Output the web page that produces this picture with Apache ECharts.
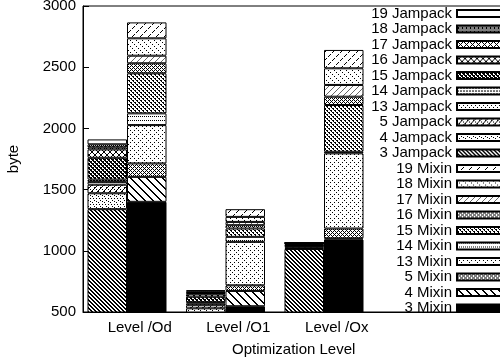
<!DOCTYPE html>
<html>
<head>
<meta charset="utf-8">
<script src="https://cdn.jsdelivr.net/npm/echarts@6/dist/echarts.min.js"></script>
<style>
html, body { margin: 0; padding: 0; background: #fff; }
#chart { width: 500px; height: 362px; }
</style>
</head>
<body>
<div id="chart"></div>
<script>
var categories = ['Level /Od', 'Level /O1', 'Level /Ox'];
var levels = ['3', '4', '5', '13', '14', '15', '16', '17', '18', '19'];

// Jampack (left bar of each group), one array per stacked segment
var jampack3 = [1340, 490, 1015];
var jampack4 = [130, 40, 10];
var jampack5 = [70, 25, 10];
var jampack13 = [23, 15, 5];
var jampack14 = [19, 10, 5];
var jampack15 = [178, 45, 10];
var jampack16 = [68, 20, 5];
var jampack17 = [17, 10, 2];
var jampack18 = [25, 15, 3];
var jampack19 = [40, 8, 2];

// Mixin (right bar)
var mixin3 = [1400, 547, 1092];
var mixin4 = [204, 125, 10];
var mixin5 = [110, 46, 80];
var mixin13 = [313, 355, 614];
var mixin14 = [96, 41, 13];
var mixin15 = [327, 68, 382];
var mixin16 = [82, 27, 68];
var mixin17 = [62, 27, 96];
var mixin18 = [142, 41, 136];
var mixin19 = [130, 63, 150];

var jampackValues = [jampack3, jampack4, jampack5, jampack13, jampack14,
                     jampack15, jampack16, jampack17, jampack18, jampack19];
var mixinValues = [mixin3, mixin4, mixin5, mixin13, mixin14,
                   mixin15, mixin16, mixin17, mixin18, mixin19];

var font = 'Liberation Sans, Arial, sans-serif';

// small bitmap fills, gnuplot style
function md(a, n) { return ((a % n) + n) % n; }
function pattern(n, on, fg) {
  var c = document.createElement('canvas');
  c.width = n; c.height = n;
  var ctx = c.getContext('2d');
  ctx.fillStyle = '#fff';
  ctx.fillRect(0, 0, n, n);
  ctx.fillStyle = fg || '#000';
  for (var y = 0; y < n; y++)
    for (var x = 0; x < n; x++)
      if (on(x, y)) ctx.fillRect(x, y, 1, 1);
  return { image: c, repeat: 'repeat' };
}

var fills = {
  '3 Jampack': pattern(4, function (x, y) { return md(x - y, 4) < 2; }),
  '4 Jampack': pattern(6, function (x, y) { return (md(x + y, 6) == 0 && x % 2 == 0) || (md(x - y, 6) == 3 && y % 3 == 0); }),
  '5 Jampack': pattern(6, function (x, y) { return md(x + y, 6) == 0 || (md(x - y, 6) == 3 && x % 2 == 0); }),
  '13 Jampack': pattern(4, function (x, y) { return (x == 0 && y == 0) || (x == 2 && y == 2); }),
  '14 Jampack': pattern(6, function (x, y) { return y % 3 == 0 && x % 3 != 2; }),
  '15 Jampack': pattern(4, function (x, y) { return md(x - y, 4) < 2 || md(x + y, 4) == 0; }),
  '16 Jampack': pattern(6, function (x, y) { return md(x - y, 6) == 0 || md(x + y, 6) == 3; }),
  '17 Jampack': pattern(6, function (x, y) { return (md(x - y, 6) == 0 || md(x + y, 6) == 0) && (x + y) % 2 == 0; }),
  '18 Jampack': pattern(4, function (x, y) { return (x + y) % 2 == 0 || (x == 1 && y == 2); }),
  '19 Jampack': pattern(2, function () { return false; }),
  '3 Mixin': pattern(2, function () { return true; }),
  '4 Mixin': pattern(8, function (x, y) { return md(x - y, 8) < 2; }),
  '5 Mixin': pattern(4, function (x, y) { return md(x - y, 4) == 0 || md(x + y, 4) == 0; }),
  '13 Mixin': pattern(8, function (x, y) { return (md(x - y, 8) == 0 || md(x + y, 8) == 0) && x % 2 == 0; }),
  '14 Mixin': pattern(8, function (x, y) { return y % 4 == 0 && x % 2 == 0; }),
  '15 Mixin': pattern(4, function (x, y) { return md(x - y, 4) == 0 || (md(x - y, 4) == 1 && y % 2 == 0); }),
  '16 Mixin': pattern(4, function (x, y) { return md(x + y, 4) == 0 || (md(x - y, 4) == 2 && x % 2 == 0); }),
  '17 Mixin': pattern(6, function (x, y) { return md(x + y, 6) == 0; }, '#666'),
  '18 Mixin': pattern(6, function (x, y) { return md(x - y, 6) == 0 && x % 2 == 0; }),
  '19 Mixin': pattern(8, function (x, y) { return md(x + y, 8) == 0 && x % 4 != 3; })
};

var series = [];
var legendNames = [];
function addStack(label, values) {
  values.forEach(function (vals, i) {
    var name = levels[i] + ' ' + label;
    series.push({
      name: name,
      type: 'bar',
      stack: label,
      data: vals,
      barWidth: 39.5,
      barGap: '0%',
      itemStyle: { color: fills[name], borderColor: '#000', borderWidth: 1 },
      emphasis: { disabled: true }
    });
  });
  legendNames = legendNames.concat(levels.slice().reverse().map(function (l) { return l + ' ' + label; }));
}
addStack('Jampack', jampackValues);
addStack('Mixin', mixinValues);
// empty column so the pair sits left of the tick like gnuplot does
series.push({ type: 'bar', stack: 'pad', data: categories.map(function () { return '-'; }),
  barWidth: 10.5, barGap: '0%', silent: true });

var chart = echarts.init(document.getElementById('chart'));
chart.setOption({
  animation: false,
  backgroundColor: '#fff',
  textStyle: { fontFamily: font, color: '#000' },
  title: {
    text: 'Optimization Level', left: 232, top: 342, padding: 0,
    textStyle: { fontFamily: font, fontSize: 15, fontWeight: 'normal', color: '#000' }
  },
  grid: { left: 83, top: 6, bottom: 50, width: 492.5, outerBoundsMode: 'none',
    show: true, borderColor: '#000', borderWidth: 1 },
  legend: {
    data: legendNames,
    orient: 'vertical', right: -10, top: 6, align: 'right', padding: 0,
    itemWidth: 52, itemHeight: 7, itemGap: 0.5, icon: 'rect', selectedMode: false,
    textStyle: { fontFamily: font, fontSize: 15, lineHeight: 15, color: '#000' }
  },
  xAxis: {
    type: 'category',
    data: categories.concat(['', '']),
    axisLine: { lineStyle: { color: '#000' } },
    axisTick: { show: false },
    axisLabel: { fontSize: 15, color: '#000', margin: 8, interval: 0, padding: [0, 0, 0, 15] }
  },
  yAxis: {
    type: 'value', min: 500, max: 3000, interval: 500,
    name: 'byte', nameLocation: 'middle', nameGap: 62,
    nameTextStyle: { fontSize: 15, color: '#000' },
    axisLine: { show: true, lineStyle: { color: '#000' } },
    axisTick: { show: true, inside: true, length: 6, lineStyle: { color: '#000' } },
    axisLabel: { fontSize: 15, color: '#000', margin: 7, formatter: function (v) { return String(v); } },
    splitLine: { show: false }
  },
  series: series
});
</script>
</body>
</html>
